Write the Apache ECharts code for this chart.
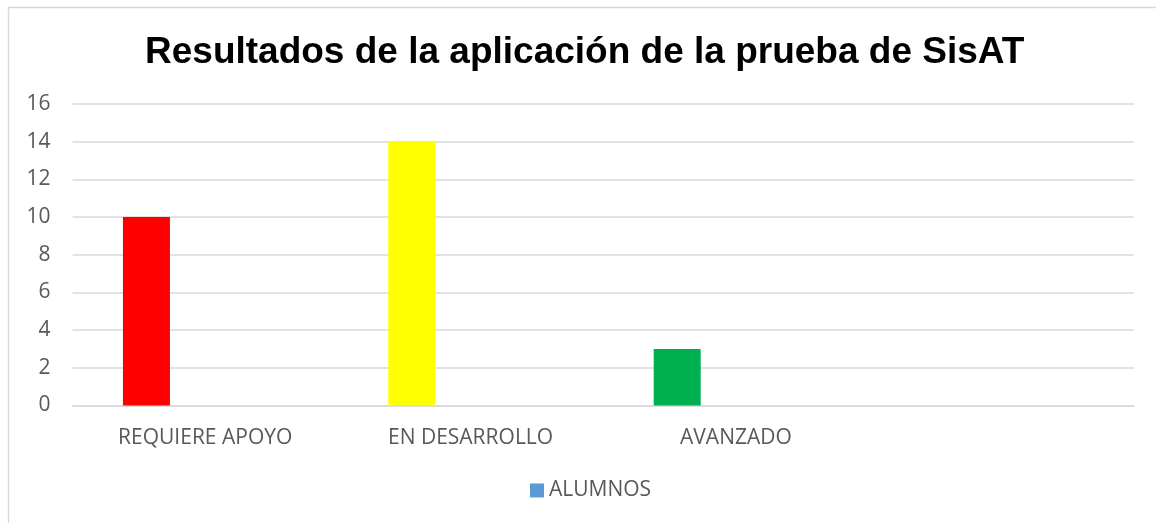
<!DOCTYPE html>
<html>
<head>
<meta charset="utf-8">
<script src="https://cdn.jsdelivr.net/npm/echarts@6/dist/echarts.min.js"></script>
<style>
  html, body { margin: 0; padding: 0; background: #fff; }
  #grafico { width: 1156px; height: 523px; }
</style>
</head>
<body>
<div id="grafico"></div>
<script>
// Datos del gráfico
const categorias = ["REQUIERE APOYO", "EN DESARROLLO", "AVANZADO", ""];
const alumnos = [10, 14, 3, null];
const coloresBarras = ["#ff0000", "#ffff00", "#00b050", "#5b9bd5"];
const ticksY = { min: 0, max: 16, interval: 2 };

let chart = echarts.init(document.getElementById("grafico"));

chart.setOption({
  animation: false,
  title: {
    text: "Resultados de la aplicación de la prueba de SisAT",
    left: 145,
    top: 34,
    padding: 0,
    textStyle: {
      fontFamily: "Liberation Sans",
      fontWeight: "bold",
      fontSize: 37,
      color: "#000",
    },
  },
  // marco gris (recortado a la derecha y abajo)
  graphic: [
    {
      type: "rect",
      shape: { x: 8.5, y: 7.5, width: 1300, height: 700 },
      style: { fill: "none", stroke: "#d9d9d9", lineWidth: 1.5 },
      silent: true,
    },
  ],
  grid: { left: 72.5, right: 22, top: 104, bottom: 117.5 },
  legend: {
    data: ["ALUMNOS"],
    bottom: 17,
    left: 525,
    icon: "rect",
    itemWidth: 14,
    itemHeight: 14,
    itemGap: 6,
    textStyle: { fontFamily: "Open Sans", fontSize: 21, color: "#595959" },
  },
  xAxis: {
    type: "category",
    data: categorias,
    axisLine: { lineStyle: { color: "#d9d9d9", width: 1.5 } },
    axisTick: { show: false },
    axisLabel: {
      fontFamily: "Open Sans",
      fontSize: 21,
      color: "#595959",
      margin: 22,
    },
  },
  yAxis: {
    type: "value",
    min: ticksY.min,
    max: ticksY.max,
    interval: ticksY.interval,
    axisLine: { show: false },
    axisTick: { show: false },
    splitLine: { lineStyle: { color: "#d9d9d9", width: 1.5 } },
    axisLabel: {
      fontFamily: "Open Sans",
      fontSize: 21,
      color: "#595959",
      margin: 22,
    },
  },
  series: [
    {
      name: "ALUMNOS",
      type: "bar",
      barWidth: 47,
      barGap: "150%",
      itemStyle: { color: "#5b9bd5" },
      data: alumnos.map((v, i) => ({
        value: v,
        itemStyle: { color: coloresBarras[i] },
      })),
    },
    {
      name: "vacio",
      type: "bar",
      barWidth: 47,
      data: categorias.map(() => null),
    },
  ],
});
</script>
</body>
</html>
